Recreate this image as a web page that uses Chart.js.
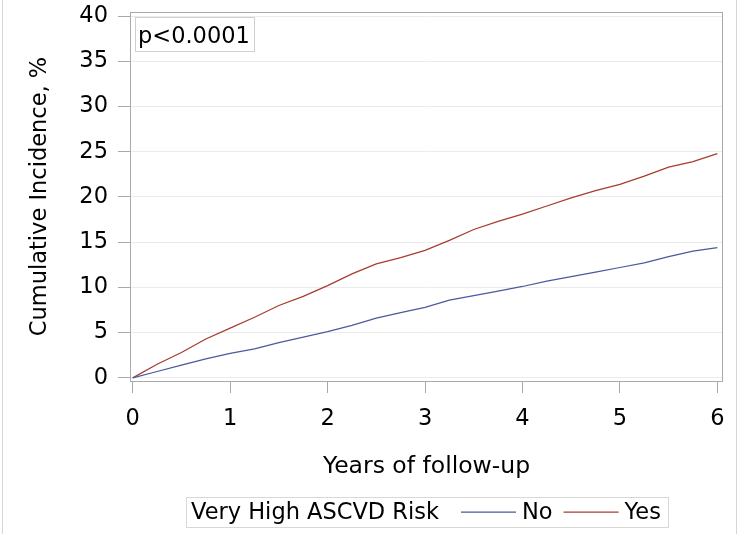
<!DOCTYPE html>
<html>
<head>
<meta charset="utf-8">
<script src="https://cdn.jsdelivr.net/npm/chart.js@4/dist/chart.umd.min.js"></script>
<style>
    html, body { margin: 0; padding: 0; background: #fff; }
    #wrap { position: relative; width: 742px; height: 534px; }
</style>
</head>
<body>
<div id="wrap"><canvas id="cif" width="742" height="534"></canvas></div>
<script>
// follow-up time (years) and cumulative incidence (%) per group
const years = [0, 0.25, 0.5, 0.75, 1, 1.25, 1.5, 1.75, 2, 2.25, 2.5, 2.75, 3,
    3.25, 3.5, 3.75, 4, 4.25, 4.5, 4.75, 5, 5.25, 5.5, 5.75, 6];
const incidenceNo = [0, 0.7, 1.4, 2.1, 2.7, 3.2, 3.9, 4.5, 5.1, 5.8, 6.6, 7.2, 7.8,
    8.6, 9.1, 9.6, 10.1, 10.7, 11.2, 11.7, 12.2, 12.7, 13.4, 14.0, 14.4];
const incidenceYes = [0, 1.5, 2.8, 4.3, 5.5, 6.7, 8.0, 9.0, 10.2, 11.5, 12.6, 13.3, 14.1,
    15.2, 16.4, 17.3, 18.1, 19.0, 19.9, 20.7, 21.4, 22.3, 23.3, 23.9, 24.8];

const groupLabels = ['No', 'Yes'];
const groupColors = ['#4a5a9c', '#a83c30'];
const xTicks = [0, 1, 2, 3, 4, 5, 6];
const yTicks = [0, 5, 10, 15, 20, 25, 30, 35, 40];
const legendTitle = 'Very High ASCVD Risk';
const pValueText = 'p<0.0001';

const FONT = '"DejaVu Sans", sans-serif';
const FONT_SIZE = 22.5;

const toPoints = (values) => values.map((v, i) => ({ x: years[i], y: v }));

// gray frame around the plot area
const framePlugin = {
    id: 'frame',
    beforeDatasetsDraw(chart) {
        const { ctx, chartArea: a } = chart;
        ctx.save();
        ctx.strokeStyle = '#a4acac';
        ctx.lineWidth = 1;
        ctx.strokeRect(Math.round(a.left) + 0.5, Math.round(a.top) + 0.5,
            Math.round(a.right - a.left) - 1, Math.round(a.bottom - a.top));
        ctx.restore();
    }
};

// p-value inset, legend box and the outer page edges
const annotationsPlugin = {
    id: 'annotations',
    afterDraw(chart) {
        const { ctx, chartArea: a } = chart;
        ctx.save();

        // outer edges
        ctx.strokeStyle = '#d6d6d6';
        ctx.lineWidth = 1;
        ctx.beginPath();
        ctx.moveTo(2.5, 0); ctx.lineTo(2.5, chart.height);
        ctx.moveTo(736.5, 0); ctx.lineTo(736.5, chart.height);
        ctx.stroke();

        ctx.font = FONT_SIZE + 'px ' + FONT;
        ctx.textBaseline = 'alphabetic';
        ctx.textAlign = 'left';
        ctx.fillStyle = '#000';

        // p-value box in the upper left corner of the plot
        const px = a.left + 5, py = a.top + 5;
        const pw = ctx.measureText(pValueText).width + 7;
        ctx.strokeStyle = '#d0d0d0';
        ctx.strokeRect(Math.round(px) + 0.5, Math.round(py) + 0.5, Math.round(pw), 34);
        ctx.fillText(pValueText, px + 3, py + 26);

        // legend
        const ly = 497, lh = 30;
        const lineLen = 55, gap = 6, itemGap = 11;
        let width = 5 + ctx.measureText(legendTitle).width + 22;
        groupLabels.forEach((label, i) => {
            width += lineLen + gap + ctx.measureText(label).width + (i < groupLabels.length - 1 ? itemGap : 7);
        });
        let x = Math.round((a.left + a.right) / 2 - width / 2);
        ctx.strokeStyle = '#d8d8d8';
        ctx.strokeRect(x + 0.5, ly + 0.5, Math.round(width), lh);
        const baseline = ly + 22;
        x += 5;
        ctx.fillText(legendTitle, x, baseline);
        x += ctx.measureText(legendTitle).width + 22;
        chart.data.datasets.forEach((ds) => {
            ctx.strokeStyle = ds.borderColor;
            ctx.lineWidth = 1.25;
            ctx.beginPath();
            ctx.moveTo(x, baseline - 7);
            ctx.lineTo(x + lineLen, baseline - 7);
            ctx.stroke();
            x += lineLen + gap;
            ctx.fillText(ds.label, x, baseline);
            x += ctx.measureText(ds.label).width + itemGap;
        });

        ctx.restore();
    }
};

const ctx = document.getElementById('cif').getContext('2d');
new Chart(ctx, {
    type: 'line',
    data: {
        datasets: [
            {
                label: groupLabels[0],
                data: toPoints(incidenceNo),
                borderColor: groupColors[0],
                borderWidth: 1.25,
                pointRadius: 0,
                tension: 0
            },
            {
                label: groupLabels[1],
                data: toPoints(incidenceYes),
                borderColor: groupColors[1],
                borderWidth: 1.25,
                pointRadius: 0,
                tension: 0
            }
        ]
    },
    options: {
        responsive: false,
        animation: false,
        layout: {
            padding: { left: 0, right: 19, top: 12, bottom: 0 }
        },
        plugins: {
            legend: { display: false },
            tooltip: { enabled: false }
        },
        scales: {
            x: {
                type: 'linear',
                min: -0.028,
                max: 6.058,
                afterBuildTicks: (scale) => {
                    scale.ticks = xTicks.map(v => ({ value: v }));
                },
                afterFit: (scale) => {
                    scale.height = 153;
                    scale.paddingLeft = 0;
                    scale.paddingRight = 0;
                },
                border: { display: false },
                grid: {
                    drawOnChartArea: false,
                    drawTicks: true,
                    tickLength: 12,
                    tickColor: '#a8a8a8'
                },
                ticks: {
                    padding: 13,
                    color: '#000',
                    font: { family: FONT, size: FONT_SIZE }
                },
                title: {
                    display: true,
                    text: 'Years of follow-up',
                    color: '#000',
                    font: { family: FONT, size: 23.5 },
                    padding: { top: 0, bottom: 53 }
                }
            },
            y: {
                type: 'linear',
                min: -0.35,
                max: 40.45,
                afterBuildTicks: (scale) => {
                    scale.ticks = yTicks.map(v => ({ value: v }));
                },
                afterFit: (scale) => {
                    scale.width = 130;
                    scale.paddingTop = 0;
                    scale.paddingBottom = 0;
                },
                border: { display: false },
                grid: {
                    color: '#ebebeb',
                    drawTicks: true,
                    tickLength: 12,
                    tickColor: '#a8a8a8'
                },
                ticks: {
                    padding: 10,
                    color: '#000',
                    font: { family: FONT, size: FONT_SIZE }
                },
                title: {
                    display: true,
                    text: 'Cumulative Incidence, %',
                    color: '#000',
                    font: { family: FONT, size: FONT_SIZE },
                    padding: { top: 27, bottom: 0 }
                }
            }
        }
    },
    plugins: [framePlugin, annotationsPlugin]
});
</script>
</body>
</html>
